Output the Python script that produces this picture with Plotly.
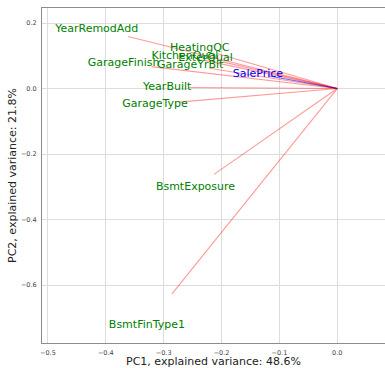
import plotly.graph_objects as go

features = ["YearRemodAdd", "HeatingQC", "KitchenQual", "ExterQual", "GarageYrBlt",
            "GarageFinish", "YearBuilt", "GarageType", "BsmtExposure", "BsmtFinType1"]
pc1 = [-0.3615, -0.2066, -0.229, -0.198, -0.221, -0.321, -0.2555, -0.274, -0.213, -0.286]
pc2 = [0.1588, 0.1064, 0.086, 0.0816, 0.0622, 0.067, 0.003, -0.0415, -0.262, -0.628]

target = "SalePrice"
target_pc1 = -0.1193
target_pc2 = 0.039

label_scale = 1.15
x_ticks = [-0.5, -0.4, -0.3, -0.2, -0.1, 0.0]
y_ticks = [0.2, 0.0, -0.2, -0.4, -0.6]

fig = go.Figure()

lx, ly = [], []
for a, b in zip(pc1, pc2):
    lx += [0, a, None]
    ly += [0, b, None]
fig.add_trace(go.Scatter(x=lx, y=ly, mode="lines",
                         line=dict(color="rgba(255,0,0,0.4)", width=1.1),
                         hoverinfo="skip", showlegend=False))
fig.add_trace(go.Scatter(x=[0, target_pc1], y=[0, target_pc2], mode="lines",
                         line=dict(color="rgba(0,0,255,0.6)", width=1.1),
                         hoverinfo="skip", showlegend=False))

fig.add_trace(go.Scatter(x=[v * label_scale for v in pc1], y=[v * label_scale for v in pc2],
                         mode="text", text=features,
                         textfont=dict(family="DejaVu Sans", size=11, color="#008000"),
                         textposition="middle center", showlegend=False))
fig.add_trace(go.Scatter(x=[target_pc1 * label_scale], y=[target_pc2 * label_scale],
                         mode="text", text=[target],
                         textfont=dict(family="DejaVu Sans", size=11, color="#0000ff"),
                         textposition="middle center", showlegend=False))

fig.update_layout(
    width=385, height=368,
    margin=dict(l=42, r=0, t=8, b=25),
    plot_bgcolor="white", paper_bgcolor="white",
    font=dict(family="DejaVu Sans", color="#222"),
)
fig.update_xaxes(
    range=[-0.5102, 0.0825], tickvals=x_ticks, tickformat=".1f",
    showgrid=True, gridcolor="#dddddd", gridwidth=1.2, zeroline=False,
    showline=True, linecolor="#8c8c8c", linewidth=1, mirror=True,
    ticks="outside", ticklen=3, tickcolor="rgba(0,0,0,0)",
    tickfont=dict(size=6.5, color="#444"),
    title=dict(text="PC1, explained variance: 48.6%", font=dict(size=11, color="#222"), standoff=2),
)
fig.update_yaxes(
    range=[-0.777, 0.246], tickvals=y_ticks, tickformat=".1f",
    showgrid=True, gridcolor="#dddddd", gridwidth=1.2, zeroline=False,
    showline=True, linecolor="#8c8c8c", linewidth=1,
    ticks="outside", ticklen=3, tickcolor="rgba(0,0,0,0)",
    tickfont=dict(size=6.5, color="#444"),
    title=dict(text="PC2, explained variance: 21.8%", font=dict(size=11, color="#222"), standoff=2),
)

fig.write_html("out.html")
